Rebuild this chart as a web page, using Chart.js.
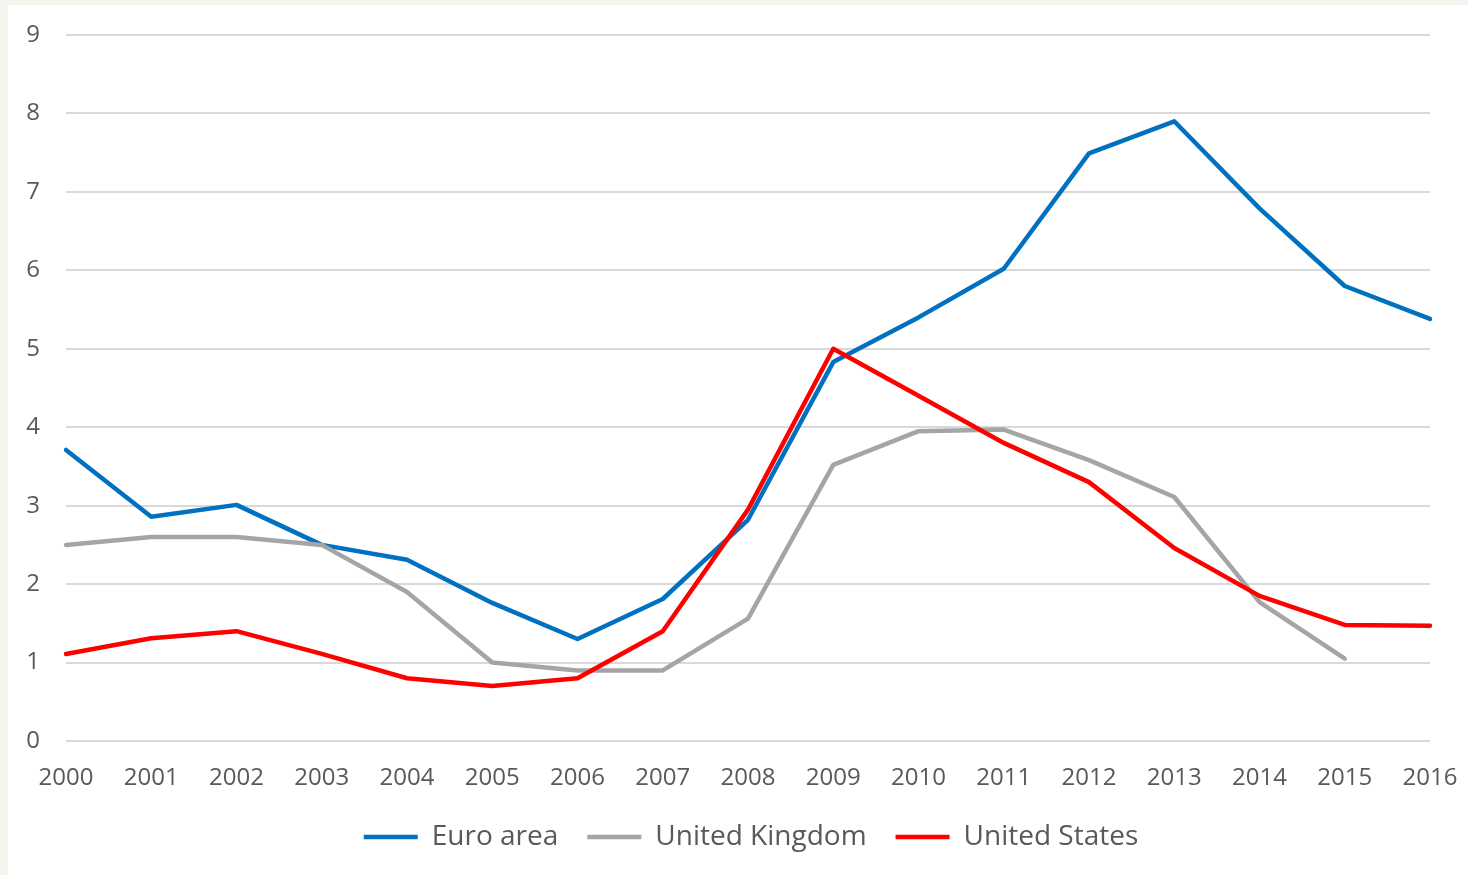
<!DOCTYPE html>
<html>
<head>
<meta charset="utf-8">
<script src="https://cdn.jsdelivr.net/npm/chart.js@4"></script>
<style>
html,body{margin:0;padding:0;background:#f4f4ef;}
#card{position:absolute;left:8px;top:5px;width:1460px;height:870px;background:#ffffff;}
canvas{display:block;}
</style>
</head>
<body>
<div id="card"><canvas id="c" width="1460" height="870"></canvas></div>
<script>
const years = ['2000','2001','2002','2003','2004','2005','2006','2007','2008','2009','2010','2011','2012','2013','2014','2015','2016'];
const euroArea = [3.71,2.86,3.01,2.50,2.31,1.76,1.30,1.81,2.82,4.83,5.40,6.02,7.49,7.90,6.79,5.80,5.38];
const unitedKingdom = [2.50,2.60,2.60,2.50,1.90,1.00,0.90,0.90,1.56,3.52,3.95,3.97,3.58,3.11,1.77,1.05,null];
const unitedStates = [1.11,1.31,1.40,1.11,0.80,0.70,0.80,1.40,2.95,5.00,4.40,3.80,3.30,2.46,1.85,1.48,1.47];
const yTicks = [0,1,2,3,4,5,6,7,8,9];

const FONT = "'Open Sans', 'Liberation Sans', sans-serif";
const TXT = '#595959';

function ds(label, data, color, order){
  return {label, data, borderColor: color, backgroundColor: color, borderWidth: 4.5,
    pointRadius: 0, pointHoverRadius: 0, tension: 0, fill: false,
    borderCapStyle: 'round', borderJoinStyle: 'round', pointStyle: 'line', order};
}

const legendShift = {
  id: 'legendShift',
  afterLayout(chart) {
    const lg = chart.legend;
    if (lg) { lg.left += 32; lg.right += 32; }
  }
};

new Chart(document.getElementById('c'), {
  type: 'line',
  data: {
    labels: years,
    datasets: [
      ds('Euro area', euroArea, '#0070C0', 3),
      ds('United Kingdom', unitedKingdom, '#A5A5A5', 2),
      ds('United States', unitedStates, '#FF0000', 1)
    ]
  },
  plugins: [legendShift],
  options: {
    responsive: false,
    animation: false,
    devicePixelRatio: 1,
    layout: {padding: {top: 30, right: 38, bottom: 14, left: 0}},
    plugins: {
      tooltip: {enabled: false},
      legend: {
        position: 'bottom',
        labels: {
          usePointStyle: true,
          pointStyleWidth: 54,
          padding: 29,
          color: TXT,
          font: {family: FONT, size: 28},
          sort: (a, b) => a.datasetIndex - b.datasetIndex
        }
      }
    },
    scales: {
      x: {
        type: 'category',
        offset: false,
        afterFit: (s) => { s.paddingLeft = 0; s.paddingRight = 0; s.height = 53; },
        grid: {display: false, drawTicks: false},
        border: {display: false},
        ticks: {color: TXT, font: {family: FONT, size: 24}, padding: 23, maxRotation: 0, autoSkip: false}
      },
      y: {
        min: 0, max: 9,
        afterFit: (s) => { s.width = 58; s.paddingTop = 0; s.paddingBottom = 0; },
        afterBuildTicks: (s) => { s.ticks = yTicks.map(v => ({value: v})); },
        grid: {color: '#d9d9d9', lineWidth: 2, drawTicks: false},
        border: {display: false},
        ticks: {color: TXT, font: {family: FONT, size: 24}, padding: 26}
      }
    }
  }
});
</script>
</body>
</html>
